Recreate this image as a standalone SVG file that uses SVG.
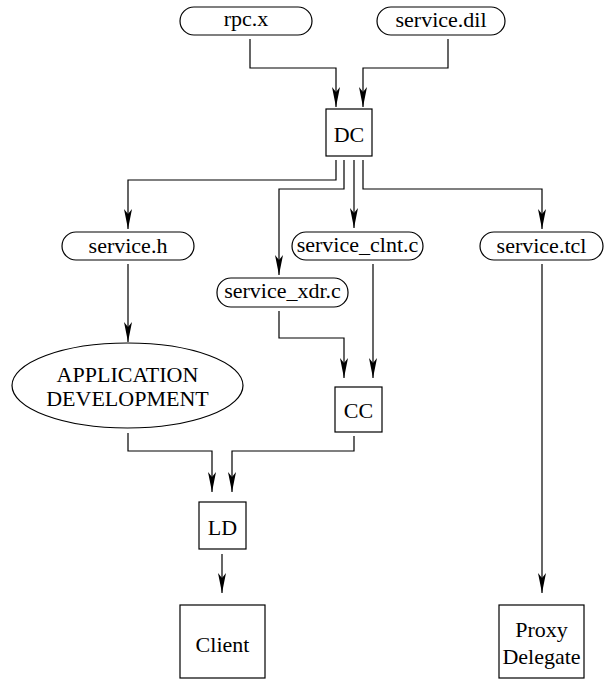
<svg xmlns="http://www.w3.org/2000/svg" width="605" height="681" viewBox="0 0 605 681">
<style>
.n{fill:#fff;stroke:#000;stroke-width:1.2}
.t{font-family:"Liberation Serif","Times New Roman",serif;font-size:22px;fill:#000;text-anchor:middle}
.c{fill:none;stroke:#000;stroke-width:1.2}
</style>
<defs>
<marker id="ah" markerUnits="userSpaceOnUse" markerWidth="22" markerHeight="12" refX="20" refY="5" orient="auto" viewBox="0 0 22 10">
<path d="M20,5 L0,1 L5,5 L0,9 Z" fill="#000"/>
</marker>
</defs>
<rect width="605" height="681" fill="#fff"/>
<g id="connectors">
<path class="c" marker-end="url(#ah)" d="M250,39 V68 H336 V107"/>
<path class="c" marker-end="url(#ah)" d="M448,39 V68 H363 V107"/>
<path class="c" marker-end="url(#ah)" d="M336,160 V180 H128 V229"/>
<path class="c" marker-end="url(#ah)" d="M344,160 V189 H279 V275"/>
<path class="c" marker-end="url(#ah)" d="M354,160 V228"/>
<path class="c" marker-end="url(#ah)" d="M363,160 V189 H542 V229"/>
<path class="c" marker-end="url(#ah)" d="M128,264 V342"/>
<path class="c" marker-end="url(#ah)" d="M279,311 V338 H344 V378"/>
<path class="c" marker-end="url(#ah)" d="M373,264 V378"/>
<path class="c" marker-end="url(#ah)" d="M128,433 V451 H212 V492"/>
<path class="c" marker-end="url(#ah)" d="M354,436 V451 H232 V492"/>
<path class="c" marker-end="url(#ah)" d="M222,554 V593"/>
<path class="c" marker-end="url(#ah)" d="M542,264 V593"/>
</g>
<g id="rpcx"><rect class="n" x="180" y="7" width="132" height="28" rx="14"/><text class="t" x="246" y="26">rpc.x</text></g>
<g id="servicedil"><rect class="n" x="377" y="7" width="128" height="28" rx="14"/><text class="t" x="441" y="27">service.dil</text></g>
<g id="dc"><rect class="n" x="326" y="109" width="46" height="47"/><text class="t" x="349" y="142">DC</text></g>
<g id="serviceh"><rect class="n" x="62" y="232" width="132" height="28" rx="14"/><text class="t" x="128" y="253">service.h</text></g>
<g id="serviceclnt"><rect class="n" x="292" y="232" width="131" height="28" rx="14"/><text class="t" x="357.5" y="252">service_clnt.c</text></g>
<g id="servicetcl"><rect class="n" x="480" y="232" width="123" height="28" rx="14"/><text class="t" x="541.5" y="253">service.tcl</text></g>
<g id="servicexdr"><rect class="n" x="217" y="278" width="131" height="29" rx="14"/><text class="t" x="282.5" y="298">service_xdr.c</text></g>
<g id="appdev"><ellipse class="n" cx="127.5" cy="385.5" rx="115.5" ry="42.5"/><text class="t" x="127.5" y="382">APPLICATION</text><text class="t" x="127.5" y="406">DEVELOPMENT</text></g>
<g id="cc"><rect class="n" x="335" y="387" width="47" height="45"/><text class="t" x="358.5" y="418">CC</text></g>
<g id="ld"><rect class="n" x="199" y="502" width="47" height="47"/><text class="t" x="222.5" y="535">LD</text></g>
<g id="client"><rect class="n" x="180" y="605" width="85" height="73"/><text class="t" x="222.5" y="652">Client</text></g>
<g id="proxy"><rect class="n" x="499" y="605" width="85" height="73"/><text class="t" x="541.5" y="637">Proxy</text><text class="t" x="541.5" y="664">Delegate</text></g>
</svg>
